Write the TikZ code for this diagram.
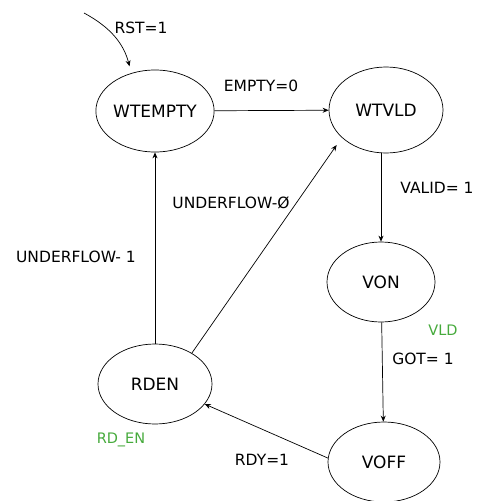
\documentclass[tikz,border=0pt]{standalone}
\usepackage{fontspec}
\setmainfont{DejaVu Sans}
\usetikzlibrary{shapes.geometric,arrows.meta}
\definecolor{lblgreen}{RGB}{70,170,60}
\tikzset{
  state/.style={draw, ellipse, inner sep=0pt, line width=0.7pt, font=\fontsize{17}{19}\selectfont},
  edge/.style={draw, line width=0.7pt, -{Stealth[length=6pt,width=5pt]}},
  lbl/.style={font=\fontsize{15.5}{17}\selectfont, inner sep=0pt},
  glbl/.style={font=\fontsize{14.5}{16}\selectfont, text=lblgreen, inner sep=0pt}
}
\begin{document}
\begin{tikzpicture}[x=1pt,y=-1pt]
\useasboundingbox (0,0) rectangle (488,501);
\node[state, minimum width=112pt, minimum height=82pt] (we) at (155,111) {WTEMPTY};
\node[state, minimum width=114pt, minimum height=86pt] (wv) at (386,110) {WTVLD};
\node[state, minimum width=108pt, minimum height=80pt] (von) at (381,282) {VON};
\node[state, minimum width=114pt, minimum height=80pt] (rd) at (155,384) {RDEN};
\node[state, minimum width=112pt, minimum height=80pt] (vo) at (384,462) {VOFF};
\coordinate (rst) at (84,13);
\path[edge, shorten >=7pt] (rst) .. controls (112,28) and (124,45) .. (we.122);
\node[lbl] (lrst) at (141,28) {RST=1};
\path[edge] (we) -- (wv);
\node[lbl] (lempty) at (261,86) {EMPTY=0};
\path[edge] (wv.south -| von.north) -- (von.north);
\node[lbl] (lvalid) at (437,188) {VALID= 1};
\path[edge] (von) -- (vo);
\node[glbl] (lvld) at (443,330) {VLD};
\node[lbl] (lgot) at (423,359) {GOT= 1};
\path[edge] (vo.176) -- (rd.-22);
\node[lbl] (lrdy) at (262,460) {RDY=1};
\node[glbl] (lrden) at (121,440) {RD\_EN};
\path[edge] (rd) -- (we);
\node[lbl] (lu1) at (76,257) {UNDERFLOW- 1};
\path[edge, shorten >=9pt] (rd.40) -- (wv.212);
\node[lbl] (lu0) at (231,203) {UNDERFLOW-Ø};
\end{tikzpicture}
\end{document}
